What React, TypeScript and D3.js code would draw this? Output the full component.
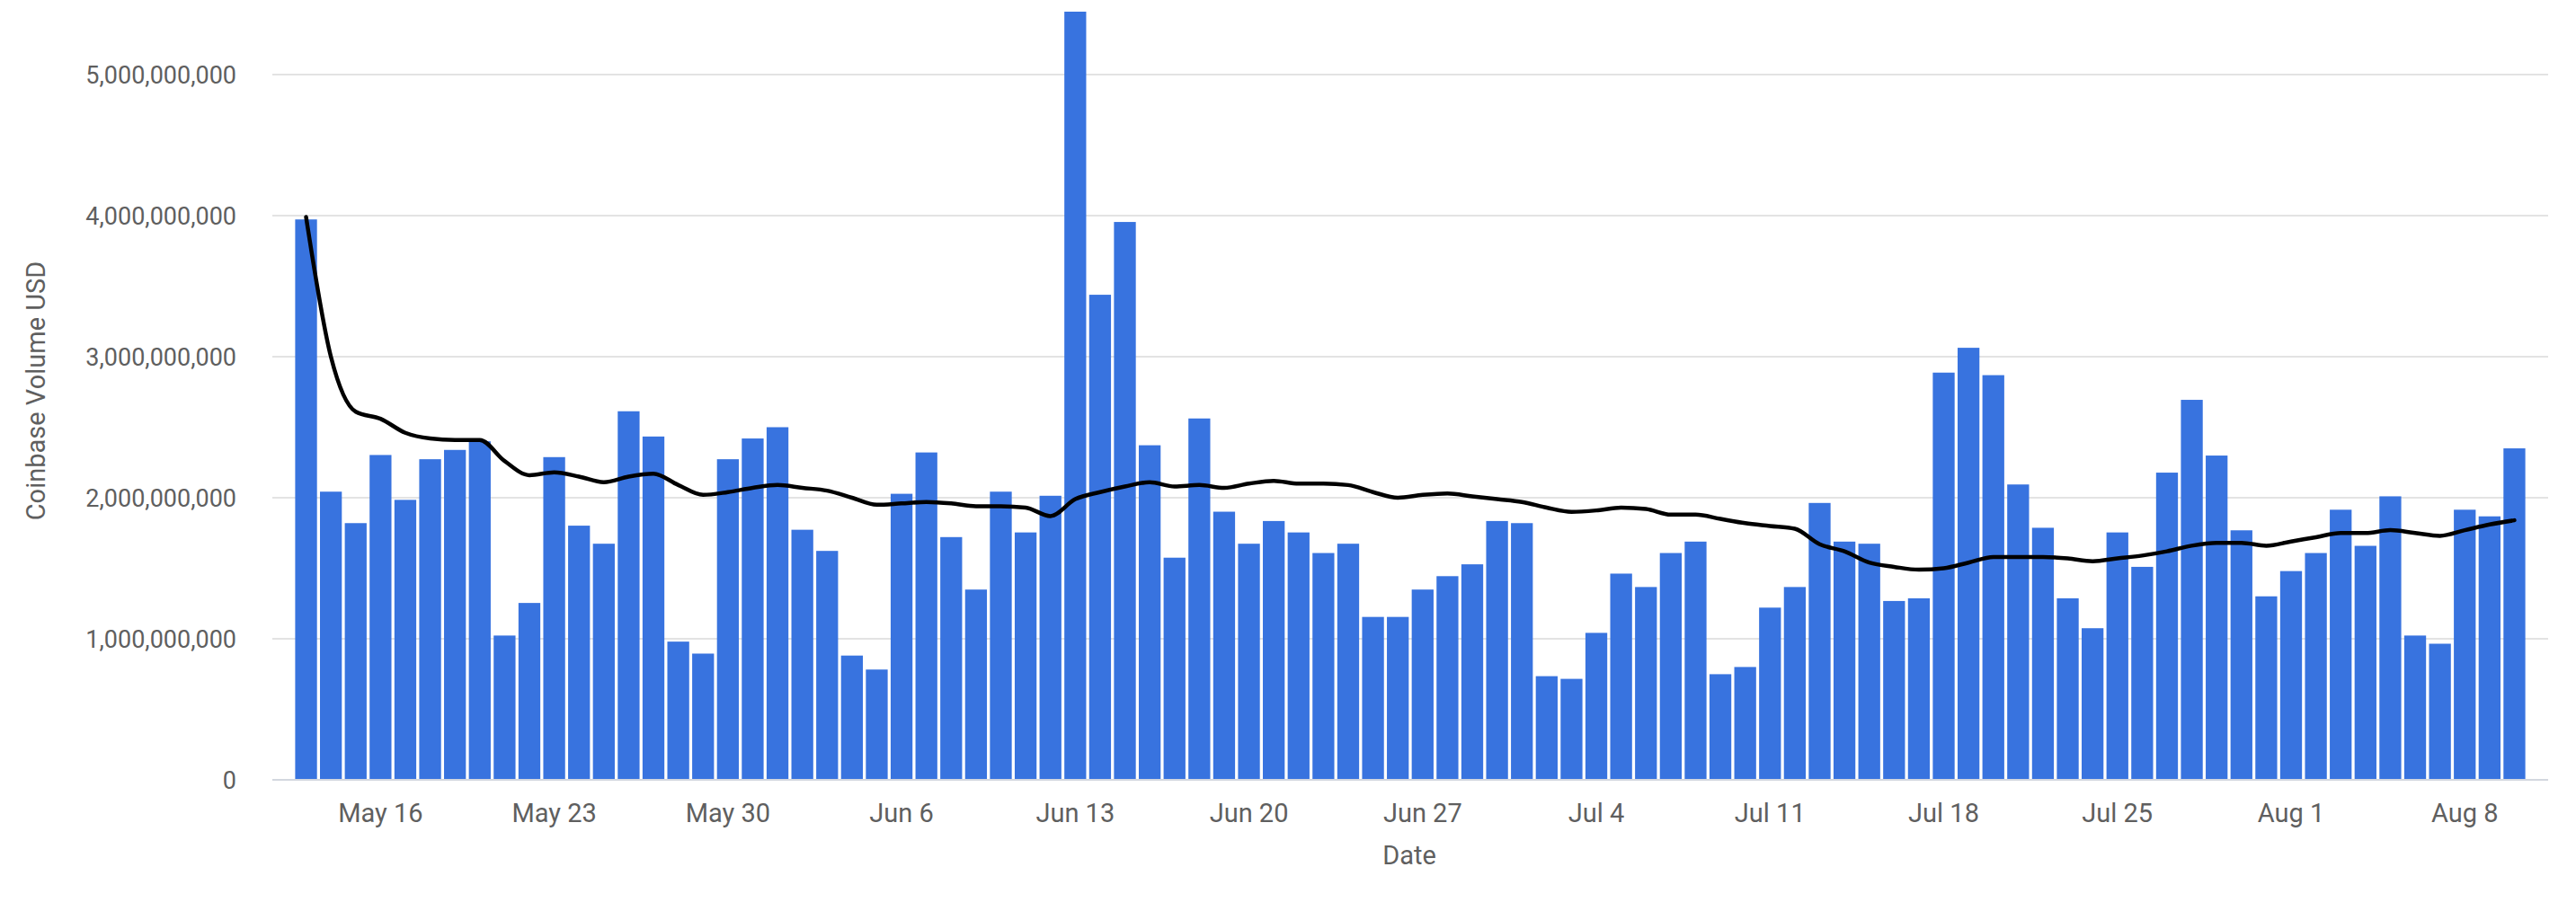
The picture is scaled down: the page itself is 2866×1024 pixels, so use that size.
import React from "react";
import * as d3 from "d3";

// ---- Data (values in billions of USD) ----
const startDate = "2022-05-13";
const volumeBn: number[] = [
  3.973, 2.043, 1.82, 2.303, 1.985, 2.273, 2.339, 2.4, 1.023, 1.254,
  2.288, 1.802, 1.674, 2.613, 2.434, 0.98, 0.895, 2.273, 2.42, 2.5,
  1.773, 1.623, 0.881, 0.782, 2.028, 2.321, 1.721, 1.349, 2.043, 1.754,
  2.014, 5.446, 3.439, 3.955, 2.372, 1.575, 2.562, 1.901, 1.674, 1.835,
  1.754, 1.608, 1.674, 1.155, 1.155, 1.349, 1.444, 1.528, 1.835, 1.82,
  0.735, 0.716, 1.042, 1.462, 1.367, 1.608, 1.689, 0.749, 0.8, 1.221,
  1.367, 1.963, 1.689, 1.674, 1.268, 1.287, 2.887, 3.063, 2.869, 2.094,
  1.787, 1.287, 1.075, 1.754, 1.51, 2.178, 2.694, 2.299, 1.769, 1.301,
  1.48, 1.608, 1.915, 1.659, 2.01, 1.023, 0.965, 1.915, 1.868, 2.35,
];
const movingAvgBn: number[] = [
  3.99, 3.0, 2.61, 2.56, 2.46, 2.42, 2.41, 2.41, 2.26, 2.16,
  2.18, 2.15, 2.11, 2.15, 2.17, 2.09, 2.02, 2.04, 2.07, 2.09,
  2.07, 2.05, 2.0, 1.95, 1.96, 1.97, 1.96, 1.94, 1.94, 1.93,
  1.87, 1.99, 2.04, 2.08, 2.11, 2.08, 2.09, 2.07, 2.1, 2.12,
  2.1, 2.1, 2.09, 2.04, 2.0, 2.02, 2.03, 2.01, 1.99, 1.97,
  1.93, 1.9, 1.91, 1.93, 1.92, 1.88, 1.88, 1.85, 1.82, 1.8,
  1.78, 1.67, 1.62, 1.54, 1.51, 1.49, 1.5, 1.54, 1.58, 1.58,
  1.58, 1.57, 1.55, 1.57, 1.59, 1.62, 1.66, 1.68, 1.68, 1.66,
  1.69, 1.72, 1.75, 1.75, 1.77, 1.75, 1.73, 1.77, 1.81, 1.84,
];
const xTickLabels: string[] = [
  "2022-05-16", "2022-05-23", "2022-05-30", "2022-06-06", "2022-06-13",
  "2022-06-20", "2022-06-27", "2022-07-04", "2022-07-11", "2022-07-18",
  "2022-07-25", "2022-08-01", "2022-08-08",
];
const yTicks: number[] = [0, 1e9, 2e9, 3e9, 4e9, 5e9];

const W = 2866;
const H = 1024;
const DAY = 86400000;

export default function App() {
  const start = new Date(startDate + "T00:00:00Z").getTime();
  const dates = volumeBn.map((_, i) => new Date(start + i * DAY));
  const pad = 1.36 * DAY;

  const x = d3
    .scaleUtc()
    .domain([new Date(start - pad), new Date(dates[dates.length - 1].getTime() + pad)])
    .range([303, 2835]);
  const y = d3.scaleLinear().domain([0, 5e9]).range([868, 83]);

  const pxPerDay = x(new Date(start + DAY)) - x(new Date(start));
  const barW = pxPerDay * 0.88;

  const fmtY = d3.format(",");
  const fmtX = d3.utcFormat("%b %-d");

  const line = d3
    .line<number>()
    .x((_, i) => x(dates[i]))
    .y((v) => y(v * 1e9))
    .curve(d3.curveMonotoneX);

  const font = "Roboto, Arial, sans-serif";
  const textColor = "#5f5f5f";

  return (
    <svg
      width={W}
      height={H}
      style={{ position: "fixed", left: 0, top: 0, background: "#fff" }}
    >
      <rect x={0} y={0} width={W} height={H} fill="#fff" />
      {yTicks.map((t) =>
        t === 0 ? null : (
          <line
            key={"g" + t}
            x1={303}
            x2={2835}
            y1={y(t)}
            y2={y(t)}
            stroke="#e3e3e3"
            strokeWidth={2}
          />
        )
      )}
      {volumeBn.map((v, i) => (
        <rect
          key={"b" + i}
          x={x(dates[i]) - barW / 2}
          y={y(v * 1e9)}
          width={barW}
          height={y(0) - y(v * 1e9)}
          fill="#3873df"
        />
      ))}
      <line x1={303} x2={2835} y1={y(0)} y2={y(0)} stroke="#d3d7df" strokeWidth={2} />
      <path d={line(movingAvgBn) || ""} fill="none" stroke="#000" strokeWidth={4.5} strokeLinejoin="round" strokeLinecap="round" />
      {yTicks.map((t) => (
        <text
          key={"yt" + t}
          x={263}
          y={y(t) + 10}
          textAnchor="end"
          fontFamily={font}
          fontSize={27}
          fill={textColor}
        >
          {fmtY(t)}
        </text>
      ))}
      {xTickLabels.map((s) => {
        const d = new Date(s + "T00:00:00Z");
        return (
          <text
            key={"xt" + s}
            x={x(d)}
            y={915}
            textAnchor="middle"
            fontFamily={font}
            fontSize={29}
            fill={textColor}
          >
            {fmtX(d)}
          </text>
        );
      })}
      <text
        x={1568}
        y={962}
        textAnchor="middle"
        fontFamily={font}
        fontSize={29}
        fill={textColor}
      >
        Date
      </text>
      <text
        transform="translate(50,435) rotate(-90)"
        textAnchor="middle"
        fontFamily={font}
        fontSize={29}
        fill={textColor}
      >
        Coinbase Volume USD
      </text>
    </svg>
  );
}
